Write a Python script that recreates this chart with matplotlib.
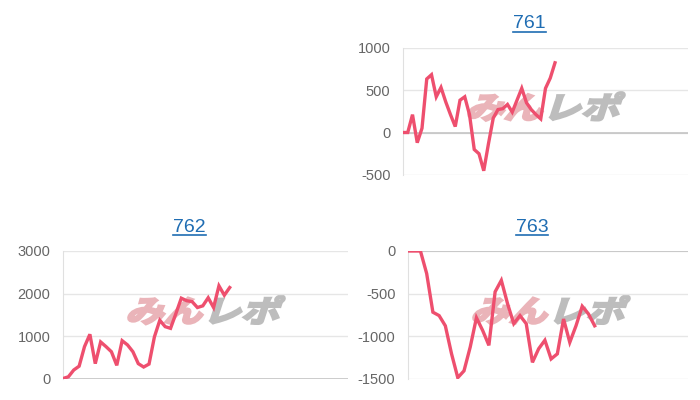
import matplotlib
matplotlib.use("Agg")
import matplotlib.pyplot as plt
from matplotlib.textpath import TextPath
from matplotlib.patches import PathPatch
from matplotlib.font_manager import FontProperties
from matplotlib.transforms import Affine2D
from matplotlib.lines import Line2D

plt.rcParams["axes.unicode_minus"] = False

# values
titles = ["761", "762", "763"]

vals_761 = [0, 0, 210, -120, 50, 630, 680, 420, 530, 360, 210, 70, 380, 420, 210,
            -200, -250, -450, -130, 170, 270, 280, 330, 240, 380, 520, 350, 270,
            210, 160, 520, 640, 820]
vals_762 = [0, 40, 200, 290, 750, 1040, 350, 860, 750, 630, 310, 890, 790, 630,
            350, 270, 340, 980, 1370, 1220, 1180, 1530, 1890, 1830, 1810, 1670,
            1710, 1900, 1670, 2180, 1960, 2140]
vals_763 = [0, 0, 0, -265, -720, -760, -880, -1210, -1490, -1410, -1130, -785,
            -935, -1110, -480, -345, -620, -855, -760, -855, -1310, -1150, -1050,
            -1270, -1210, -800, -1075, -880, -650, -740, -880]

yticks_761 = [-500, 0, 500, 1000]
yticks_762 = [0, 1000, 2000, 3000]
yticks_763 = [-1500, -1000, -500, 0]

x_max = [60, 53, 45]

line_color = "#ee4f6e"
W, H = 700, 400

fig = plt.figure(figsize=(7, 4), dpi=100)

# axes boxes in pixels: left, top, right, bottom
boxes = [(403, 47.5, 688, 175), (63, 251, 348, 378.5), (408, 251, 688, 378.5)]
title_y = [24, 228, 228]

series = [vals_761, vals_762, vals_763]
ticks = [yticks_761, yticks_762, yticks_763]

wm_font = FontProperties(family="Noto Sans CJK JP", weight="bold")


def watermark(x0, y0):
    # stylised site logo behind the lines, skewed like italics
    pink = TextPath((0, 0), "みん", size=32, prop=wm_font)
    gray = TextPath((0, 0), "レポ", size=32, prop=wm_font)
    w_pink = pink.get_extents().x1 * 1.2
    for path, dx, col in [(pink, 0, "#eab4b9"), (gray, w_pink + 2, "#bdbdbd")]:
        tr = Affine2D().scale(1.2, 0.95).skew_deg(18, 0).translate(x0 + dx, H - y0)
        p = PathPatch(path, transform=tr, facecolor=col, edgecolor=col, lw=1.8,
                      zorder=-1)
        fig.add_artist(p)


for i, (l, t, r, b) in enumerate(boxes):
    ax = fig.add_axes([l / W, 1 - b / H, (r - l) / W, (b - t) / H])
    ax.set_facecolor("none")
    vals = series[i]
    ax.plot(range(len(vals)), vals, color=line_color, lw=2.4, solid_joinstyle="miter",
            zorder=3)
    ax.set_xlim(0, x_max[i])
    ax.set_ylim(min(ticks[i]), max(ticks[i]))
    ax.set_yticks(ticks[i])
    ax.set_xticks([])
    ax.grid(axis="y", color="#e6e6e6", lw=1)
    ax.axhline(0, color="#c4c4c4", lw=1.2, zorder=2)
    for s in ["top", "right", "bottom"]:
        ax.spines[s].set_visible(False)
    ax.spines["left"].set_color("#e0e0e0")
    ax.tick_params(axis="y", length=0, pad=9, labelsize=10.5, labelcolor="#666666")
    for lab in ax.get_yticklabels():
        lab.set_fontfamily("Liberation Sans")

    cx = (l + r) / 2 - 16
    txt = fig.text(cx / W, 1 - title_y[i] / H, titles[i], ha="center", va="center",
                   fontsize=14, color="#1f6db3", family="Liberation Sans")
    fig.canvas.draw()
    bb = txt.get_window_extent()
    fig.add_artist(Line2D([bb.x0 / W, bb.x1 / W], [(bb.y0 + 1) / H, (bb.y0 + 1) / H],
                          transform=fig.transFigure, color="#1f6db3", lw=1.2))

    # watermark sits at roughly the same spot in every panel
    watermark(l + 62, t + 71)

fig.savefig("out.png", dpi=100)
